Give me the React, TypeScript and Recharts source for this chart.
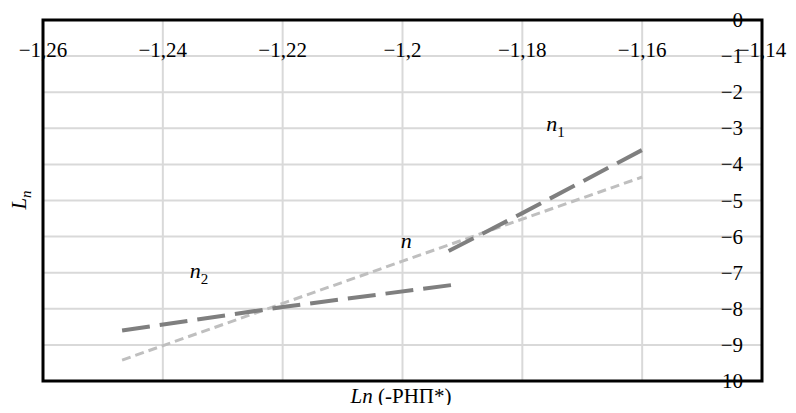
import React from "react";
import {
  LineChart,
  Line,
  XAxis,
  YAxis,
  CartesianGrid,
  ReferenceArea,
  ReferenceDot,
} from "recharts";

// tick values
const xTicks = [-1.26, -1.24, -1.22, -1.2, -1.18, -1.16, -1.14];
const yTicks = [0, -1, -2, -3, -4, -5, -6, -7, -8, -9, -10];

// series n (light, short dash)
const nX = [-1.2468, -1.2, -1.16];
const nY = [-9.42, -6.68, -4.35];

// series n1 (dark, long dash)
const n1X = [-1.1923, -1.18, -1.16];
const n1Y = [-6.4, -5.35, -3.6];

// series n2 (dark, long dash)
const n2X = [-1.2468, -1.22, -1.1917];
const n2Y = [-8.6, -7.95, -7.34];

// series labels: text, subscript, anchor x, anchor y
const seriesLabels = [
  { main: "n", sub: "1", x: -1.176, y: -3.07 },
  { main: "n", sub: "", x: -1.2003, y: -6.32 },
  { main: "n", sub: "2", x: -1.2355, y: -7.15 },
];

const toRows = (xs: number[], ys: number[]) =>
  xs.map((x, i) => ({ x: x, y: ys[i] }));

const serif = "'Liberation Serif', 'Times New Roman', 'DejaVu Serif', serif";

const fmtX = (v: number) => String(v).replace(".", ",").replace("-", "\u2212");
const fmtY = (v: number) => (v === 0 ? "0" : "\u2212" + Math.abs(v));

const XTick = (props: any) => {
  const { x, y, payload } = props;
  return (
    <text x={x} y={y + 37} textAnchor="middle" fontSize={21} style={{ fontFamily: serif }} fill="#000">
      {fmtX(payload.value)}
    </text>
  );
};

const YTick = (props: any) => {
  const { x, y, payload } = props;
  return (
    <text x={x - 19} y={y + 7} textAnchor="end" fontSize={21} style={{ fontFamily: serif }} fill="#000">
      {fmtY(payload.value)}
    </text>
  );
};

const SeriesLabel = (main: string, sub: string) => (props: any) => (
  <text x={props.cx} y={props.cy} fontSize={22} style={{ fontFamily: serif }} fill="#000">
    <tspan fontStyle="italic">{main}</tspan>
    {sub ? (
      <tspan dy={6} fontSize={15}>
        {sub}
      </tspan>
    ) : null}
  </text>
);

const App: React.FC = () => {
  return (
    <div style={{ position: "relative", width: 780, height: 397 }}>
      <div style={{ position: "absolute", left: -8, top: -8, width: 796, height: 413 }}>
        <LineChart
          width={796}
          height={413}
          margin={{ top: 0, right: 0, bottom: 32, left: 43 }}
        >
          <CartesianGrid stroke="#d9d9d9" strokeWidth={2} />
          <XAxis
            type="number"
            dataKey="x"
            orientation="top"
            domain={[-1.26, -1.14]}
            ticks={xTicks}
            height={20}
            tickSize={0}
            tickMargin={0}
            axisLine={false}
            tickLine={false}
            tick={XTick}
            allowDataOverflow
            interval={0}
          />
          <YAxis
            type="number"
            dataKey="y"
            orientation="right"
            domain={[-10, 0]}
            ticks={yTicks}
            width={34}
            tickSize={0}
            tickMargin={0}
            axisLine={false}
            tickLine={false}
            tick={YTick}
            allowDataOverflow
            interval={0}
          />
          <Line
            data={toRows(nX, nY)}
            dataKey="y"
            stroke="#bfbfbf"
            strokeWidth={3}
            strokeDasharray="9 5"
            dot={false}
            activeDot={false}
            isAnimationActive={false}
          />
          <Line
            data={toRows(n2X, n2Y)}
            dataKey="y"
            stroke="#7f7f7f"
            strokeWidth={4}
            strokeDasharray="28 10"
            dot={false}
            activeDot={false}
            isAnimationActive={false}
          />
          <Line
            data={toRows(n1X, n1Y)}
            dataKey="y"
            stroke="#7f7f7f"
            strokeWidth={4}
            strokeDasharray="28 10"
            dot={false}
            activeDot={false}
            isAnimationActive={false}
          />
          {seriesLabels.map((l, i) => (
            <ReferenceDot
              key={i}
              x={l.x}
              y={l.y}
              r={0}
              shape={SeriesLabel(l.main, l.sub)}
            />
          ))}
          <ReferenceArea
            x1={-1.26}
            x2={-1.14}
            y1={-10}
            y2={0}
            fill="none"
            fillOpacity={0}
            stroke="#000"
            strokeWidth={3}
          />
        </LineChart>
        <svg
          width={796}
          height={413}
          style={{ position: "absolute", left: 0, top: 0, pointerEvents: "none" }}
        >
          <text
            transform="translate(26, 200) rotate(-90)"
            textAnchor="middle"
            fontSize={21}
            style={{ fontFamily: serif }}
            fill="#000"
          >
            <tspan fontStyle="italic">L</tspan>
            <tspan fontStyle="italic" fontSize={15} dy={5}>n</tspan>
          </text>
          <text
            x={401}
            y={403}
            textAnchor="middle"
            fontSize={21}
            style={{ fontFamily: serif }}
            fill="#000"
          >
            <tspan fontStyle="italic">Ln</tspan> (-РНП*)
          </text>
        </svg>
      </div>
    </div>
  );
};

export default App;
